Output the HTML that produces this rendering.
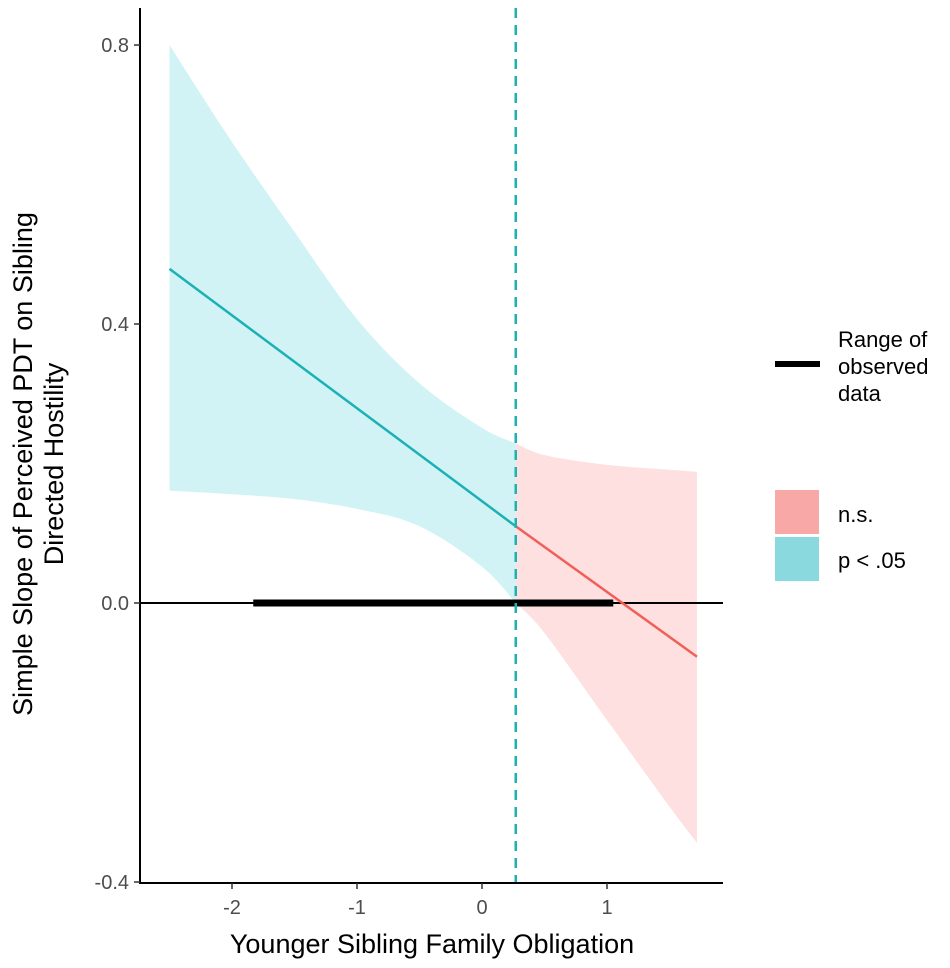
<!DOCTYPE html>
<html><head><meta charset="utf-8"><style>
body{margin:0;background:#fff}
svg{display:block;font-family:"Liberation Sans",Arial,sans-serif}
</style></head><body>
<svg id="chart" width="950" height="968" viewBox="0 0 950 968">
<g id="plot"></g>
<g id="axes"></g>
<g>
  <rect x="775" y="361" width="45" height="6" fill="#000"/>
  <text x="838" y="347" font-size="22" fill="#000"><tspan x="838">Range of</tspan><tspan x="838" dy="27">observed</tspan><tspan x="838" dy="27">data</tspan></text>
  <rect x="775" y="490" width="44" height="44" fill="#f8a9a7"/>
  <text x="838" y="522" font-size="22" fill="#000">n.s.</text>
  <rect x="775" y="537" width="44" height="44" fill="#8ad9df"/>
  <text x="838" y="568" font-size="22" fill="#000">p &lt; .05</text>
</g>
<text x="432" y="953" font-size="27" text-anchor="middle" fill="#000">Younger Sibling Family Obligation</text>
<text transform="translate(42,464) rotate(-90)" font-size="27" text-anchor="middle" fill="#000"><tspan x="0" y="-10">Simple Slope of Perceived PDT on Sibling</tspan><tspan x="0" y="21">Directed Hostility</tspan></text>
</svg>
<script>
const blueX=[-2.5,-2,-1.5,-1,-0.5,0,0.27];
const blueUpper=[0.8,0.661,0.532,0.407,0.315,0.251,0.229];
const blueLower=[0.161,0.156,0.149,0.135,0.110,0.052,0.0];
const redX=[0.27,0.5,1,1.5,1.72];
const redUpper=[0.229,0.212,0.198,0.191,0.188];
const redLower=[0.0,-0.043,-0.168,-0.292,-0.344];
const slopeX=[-2.5,0.27,1.72];
const slopeY=[0.479,0.11,-0.077];
const observedRange=[-1.83,1.05];
const johnsonNeyman=0.27;
const xTicks=[-2,-1,0,1];
const yTicks=[-0.4,0.0,0.4,0.8];
const yTickLabels=["-0.4","0.0","0.4","0.8"];

const sx=v=>482+125*v;
const sy=v=>603-697.5*v;
const NS="http://www.w3.org/2000/svg";
const plot=document.getElementById('plot'),axes=document.getElementById('axes');
function mk(tag,attrs,parent){const e=document.createElementNS(NS,tag);for(const k in attrs)e.setAttribute(k,attrs[k]);parent.appendChild(e);return e;}
function smooth(pts,start){
  let d=start?'M'+pts[0][0]+','+pts[0][1]:'L'+pts[0][0]+','+pts[0][1];
  for(let i=0;i<pts.length-1;i++){
    const p0=pts[Math.max(0,i-1)],p1=pts[i],p2=pts[i+1],p3=pts[Math.min(pts.length-1,i+2)];
    const c1=[p1[0]+(p2[0]-p0[0])/6,p1[1]+(p2[1]-p0[1])/6];
    const c2=[p2[0]-(p3[0]-p1[0])/6,p2[1]-(p3[1]-p1[1])/6];
    d+=' C'+c1+' '+c2+' '+p2;
  }
  return d;
}
function band(xs,up,lo){
  const u=xs.map((x,i)=>[sx(x),sy(up[i])]);
  const l=xs.map((x,i)=>[sx(x),sy(lo[i])]).reverse();
  return smooth(u,true)+' '+smooth(l,false)+' Z';
}

const bb=mk('path',{d:band(blueX,blueUpper,blueLower),fill:'#d2f3f5'},plot);


const rb=mk('path',{d:band(redX,redUpper,redLower),fill:'#fde0df'},plot);



const zl=mk('line',{x1:140,x2:723,y1:sy(0),y2:sy(0),stroke:'#000','stroke-width':2},plot);



const bl=mk('line',{x1:sx(slopeX[0]),y1:sy(slopeY[0]),x2:sx(slopeX[1]),y2:sy(slopeY[1]),stroke:'#1cb1b5','stroke-width':2.5},plot);


const rl=mk('line',{x1:sx(slopeX[1]),y1:sy(slopeY[1]),x2:sx(slopeX[2]),y2:sy(slopeY[2]),stroke:'#f0605a','stroke-width':2.5},plot);



const ob=mk('line',{x1:sx(observedRange[0]),x2:sx(observedRange[1]),y1:sy(0),y2:sy(0),stroke:'#000','stroke-width':7},plot);



const jn=mk('line',{x1:sx(johnsonNeyman),x2:sx(johnsonNeyman),y1:8,y2:883,stroke:'#1cb1b5','stroke-width':2.5,'stroke-dasharray':'10 7'},plot);



const ya=mk('line',{x1:140,x2:140,y1:8,y2:884,stroke:'#000','stroke-width':2},axes);


const xa=mk('line',{x1:139,x2:723,y1:883,y2:883,stroke:'#000','stroke-width':2},axes);



xTicks.forEach(v=>{
  const t=mk('line',{x1:sx(v),x2:sx(v),y1:883,y2:889,stroke:'#333','stroke-width':1.5},axes);
  
  
  const l=mk('text',{x:sx(v),y:914,'font-size':20,'text-anchor':'middle',fill:'#4d4d4d'},axes);
  
  
  l.textContent=String(v);
});
yTicks.forEach((v,i)=>{
  const t=mk('line',{x1:134,x2:140,y1:sy(v),y2:sy(v),stroke:'#333','stroke-width':1.5},axes);
  
  
  const l=mk('text',{x:129,y:sy(v)+7,'font-size':20,'text-anchor':'end',fill:'#4d4d4d'},axes);
  
  
  l.textContent=yTickLabels[i];
});
</script>
</body></html>
